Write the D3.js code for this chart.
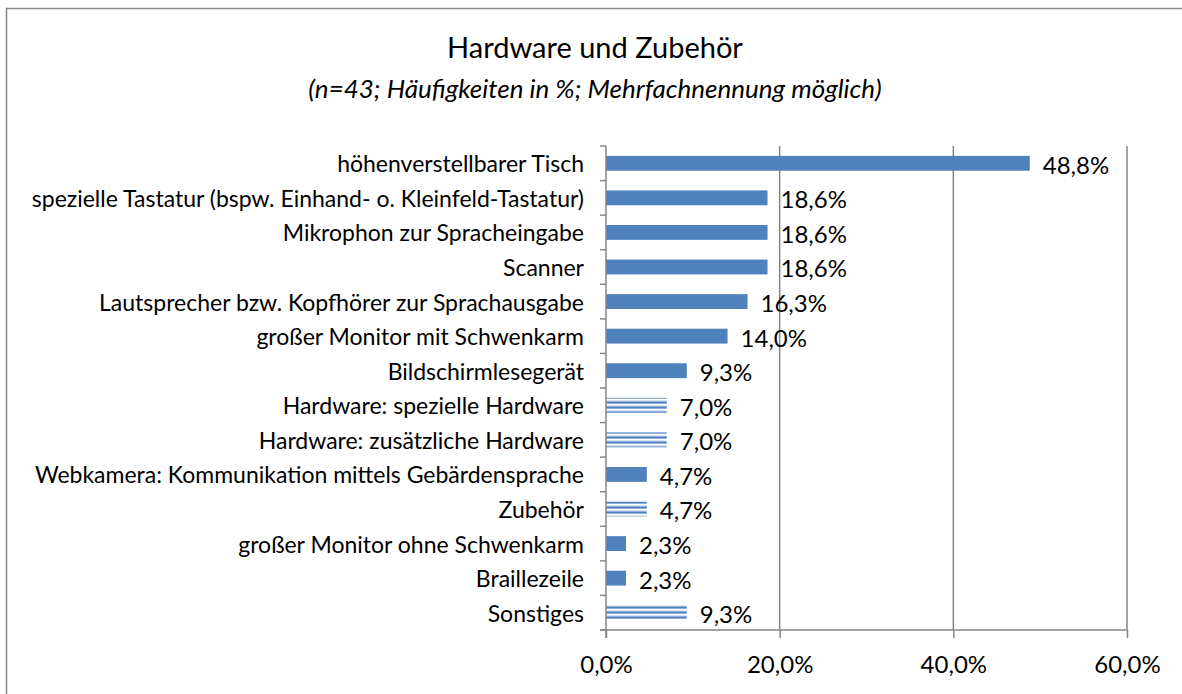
<!DOCTYPE html>
<meta charset="utf-8">
<style>
body { margin: 0; background: #fff; }
text { font-family: Lato, "Open Sans", sans-serif; fill: #000; }
.title { font-size: 29px; text-anchor: middle; }
.subtitle { font-size: 26px; font-style: italic; text-anchor: middle; }
.cat { font-size: 23px; text-anchor: end; }
.val { font-size: 24px; }
.tick text { font-size: 24px; }
</style>
<script src="https://d3js.org/d3.v7.min.js"></script>
<body>
<svg width="1182" height="694"></svg>
</body>
<script>

var categories = ["höhenverstellbarer Tisch",
  "spezielle Tastatur (bspw. Einhand- o. Kleinfeld-Tastatur)",
  "Mikrophon zur Spracheingabe",
  "Scanner",
  "Lautsprecher bzw. Kopfhörer zur Sprachausgabe",
  "großer Monitor mit Schwenkarm",
  "Bildschirmlesegerät",
  "Hardware: spezielle Hardware",
  "Hardware: zusätzliche Hardware",
  "Webkamera: Kommunikation mittels Gebärdensprache",
  "Zubehör",
  "großer Monitor ohne Schwenkarm",
  "Braillezeile",
  "Sonstiges"];
var values = [48.8, 18.6, 18.6, 18.6, 16.3, 14.0, 9.3, 7.0, 7.0, 4.7, 4.7, 2.3, 2.3, 9.3];
// open answers get the striped fill
var striped = [0, 0, 0, 0, 0, 0, 0, 1, 1, 0, 1, 0, 0, 1];
var xTicks = [0, 20, 40, 60];

var svg = d3.select("svg"),
    x0 = 606, x1 = 1127, y0 = 146, y1 = 630,
    grey = "#868686", blue = "#4f81bd";

var fmt = function(v) { return v.toFixed(1).replace(".", ",") + "%"; };

var x = d3.scaleLinear().domain([0, 60]).range([x0, x1]);
var y = d3.scaleBand().domain(categories).range([y0, y1])
    .paddingInner(0.57).paddingOuter(0.285);

// stripe pattern
var pat = svg.append("defs").append("pattern")
    .attr("id", "stripes")
    .attr("patternUnits", "userSpaceOnUse")
    .attr("width", 10).attr("height", 5);
var rows = ["#dbe5f1", "#8eb0d9", "#4f81bd", "#8eb0d9", "#ffffff"];
rows.forEach(function(c, i) {
  pat.append("rect").attr("x", 0).attr("y", i).attr("width", 10).attr("height", 1).attr("fill", c);
});

// chart border (only top and left visible)
svg.append("path")
    .attr("d", "M6.5,694V8.5H1182")
    .attr("fill", "none").attr("stroke", grey).attr("stroke-width", 1.5);

svg.append("text").attr("class", "title")
    .attr("x", 595).attr("y", 58).text("Hardware und Zubehör");
svg.append("text").attr("class", "subtitle")
    .attr("x", 595).attr("y", 98).text("(n=43; Häufigkeiten in %; Mehrfachnennung möglich)");

// gridlines
svg.append("g").selectAll("line")
  .data(xTicks.slice(1))
  .join("line")
    .attr("x1", function(d) { return x(d); }).attr("x2", function(d) { return x(d); })
    .attr("y1", y0).attr("y2", y1)
    .attr("stroke", grey).attr("stroke-width", 1.5);

// bars
svg.append("g").selectAll("rect")
  .data(categories)
  .join("rect")
    .attr("x", x(0))
    .attr("y", function(d) { return y(d); })
    .attr("width", function(d, i) { return x(values[i]) - x(0); })
    .attr("height", y.bandwidth())
    .attr("fill", function(d, i) { return striped[i] ? "url(#stripes)" : blue; });

// value labels
svg.append("g").selectAll("text")
  .data(categories)
  .join("text")
    .attr("class", "val")
    .attr("x", function(d, i) { return x(values[i]) + 13; })
    .attr("y", function(d) { return y(d) + y.bandwidth() / 2 + 2; })
    .attr("dy", "0.35em")
    .text(function(d, i) { return fmt(values[i]); });

// y axis: line, ticks at band boundaries, labels
var ya = svg.append("g");
ya.append("line").attr("x1", x0).attr("x2", x0).attr("y1", y0).attr("y2", y1 + 8)
    .attr("stroke", grey).attr("stroke-width", 1.5);
ya.selectAll(".yt")
  .data(d3.range(categories.length + 1))
  .join("line")
    .attr("x1", x0 - 6).attr("x2", x0)
    .attr("y1", function(i) { return y0 + i * y.step(); })
    .attr("y2", function(i) { return y0 + i * y.step(); })
    .attr("stroke", grey).attr("stroke-width", 1.5);
ya.selectAll(".cat")
  .data(categories)
  .join("text")
    .attr("class", "cat")
    .attr("x", 584)
    .attr("y", function(d) { return y(d) + y.bandwidth() / 2 + 1; })
    .attr("dy", "0.35em")
    .text(function(d) { return d; });

// x axis
var xa = svg.append("g").attr("transform", "translate(0," + y1 + ")")
    .call(d3.axisBottom(x).tickValues(xTicks).tickSize(8).tickSizeOuter(0).tickPadding(18).tickFormat(fmt));
xa.select(".domain").attr("stroke", grey).attr("stroke-width", 1.5).attr("d", "M" + (x0 - 6) + ",0H" + x1);
xa.selectAll(".tick line").attr("stroke", grey).attr("stroke-width", 1.5);
xa.selectAll(".tick text").attr("fill", "#000").style("font-family", "Lato, sans-serif");

</script>
